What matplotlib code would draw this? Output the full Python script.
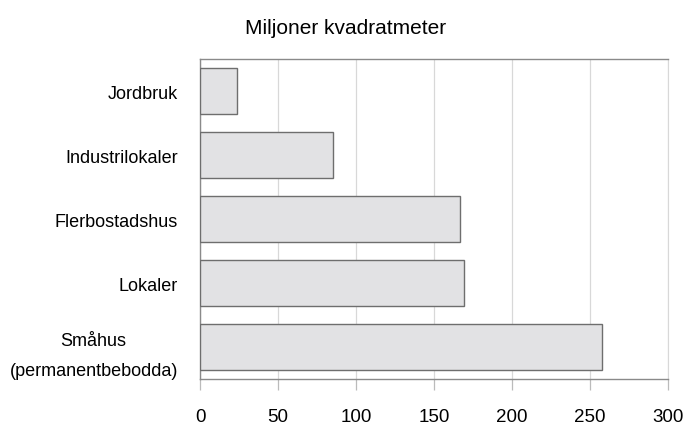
from matplotlib import pyplot as plt
from matplotlib.transforms import ScaledTranslation

# data, listed bottom to top
categories = ['Småhus\n(permanentbebodda)', 'Lokaler', 'Flerbostadshus',
              'Industrilokaler', 'Jordbruk']
values = [258, 169, 167, 85, 24]
xticks = [0, 50, 100, 150, 200, 250, 300]

plt.rcParams['font.family'] = ['Liberation Sans', 'DejaVu Sans']

fig = plt.figure(figsize=(6.85, 4.27), dpi=100)
ax = fig.add_axes([0.292, 0.110, 0.683, 0.749])

ax.barh(range(len(categories)), values, height=0.72, color='#e2e2e4',
        edgecolor='#6e6e6e', lw=1.0, zorder=3)

ax.set_xlim(0, 300)
ax.set_ylim(-0.5, len(categories) - 0.5)
ax.set_xticks(xticks)
ax.set_xticklabels([str(t) for t in xticks], fontsize=13.5)
ax.set_yticks(range(len(categories)))
ax.set_yticklabels(categories, fontsize=13, multialignment='center',
                   linespacing=2.0)

# two-line label sits a little high in the original
lab = ax.get_yticklabels()[0]
lab.set_transform(lab.get_transform()
                  + ScaledTranslation(0, 6 / 72, fig.dpi_scale_trans))

ax.grid(axis='x', color='#d8d8d8', lw=0.9, zorder=0)
ax.tick_params(axis='x', length=8, width=0.9, color='#bbbbbb', pad=13)
ax.tick_params(axis='y', length=0, pad=16)

for side in ['left', 'top', 'bottom']:
    ax.spines[side].set_color('#8a8a8a')
    ax.spines[side].set_linewidth(1.0)
ax.spines['right'].set_color('#d8d8d8')

fig.suptitle('Miljoner kvadratmeter', x=0.505, y=0.955, fontsize=15)

fig.savefig('out.png', dpi=100)
plt.close(fig)
